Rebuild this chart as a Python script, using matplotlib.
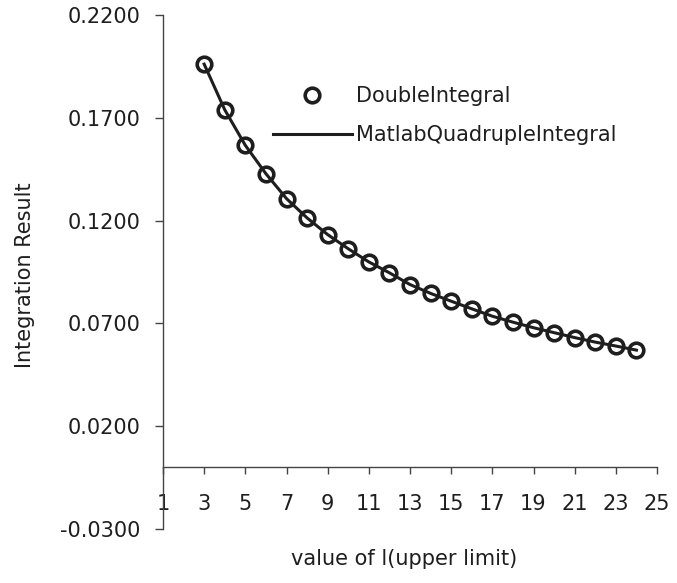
import matplotlib
matplotlib.use("Agg")
import matplotlib.pyplot as plt
from matplotlib.ticker import FormatStrFormatter

plt.rcParams['font.family'] = ['DejaVu Sans']
plt.rcParams['font.size'] = 15

# upper limit l and the two integration results
upper_limit = [3, 4, 5, 6, 7, 8, 9, 10, 11, 12, 13, 14, 15, 16, 17, 18, 19, 20, 21, 22, 23, 24]
double_integral = [0.1961, 0.1739, 0.1566, 0.1428, 0.1307, 0.1213, 0.1132, 0.1063, 0.0999, 0.0946, 0.0889,
                   0.0846, 0.0808, 0.0771, 0.0735, 0.0706, 0.0679, 0.0655, 0.0631, 0.0609, 0.0590, 0.0570]
quad_integral = [0.1961, 0.1739, 0.1566, 0.1428, 0.1307, 0.1213, 0.1132, 0.1063, 0.0999, 0.0946, 0.0889,
                 0.0846, 0.0808, 0.0771, 0.0735, 0.0706, 0.0679, 0.0655, 0.0631, 0.0609, 0.0590, 0.0570]
x_ticks = list(range(1, 26, 2))
y_ticks = [-0.03, 0.02, 0.07, 0.12, 0.17, 0.22]

ink = '#1e1e1e'

fig = plt.figure(figsize=(6.77, 5.83), dpi=100)
ax = fig.add_axes([163 / 677, 1 - 529 / 583, 494 / 677, 514 / 583])

ax.plot(upper_limit, double_integral, ls='', marker='o', ms=10.5, mfc='none',
        mec=ink, mew=2.6, label='DoubleIntegral', zorder=3)
ax.plot(upper_limit, quad_integral, ls='-', color=ink, lw=2.2,
        label='MatlabQuadrupleIntegral', zorder=2)

ax.set_xlim(1, 25)
ax.set_ylim(-0.03, 0.22)
ax.set_xticks(x_ticks)
ax.set_yticks(y_ticks)
ax.yaxis.set_major_formatter(FormatStrFormatter('%.4f'))

ax.spines['top'].set_visible(False)
ax.spines['right'].set_visible(False)
ax.spines['bottom'].set_position(('data', 0))
for s in ('left', 'bottom'):
    ax.spines[s].set_color('#444444')
    ax.spines[s].set_linewidth(1.0)

ax.tick_params(axis='y', direction='out', length=6, width=1.0, color='#444444',
               pad=10, labelcolor=ink, labelsize=15)
ax.tick_params(axis='x', direction='out', length=5, width=1.0, color='#444444',
               pad=14, labelcolor=ink, labelsize=15)

ax.set_xlabel('value of l(upper limit)', color=ink, fontsize=15)
ax.set_ylabel('Integration Result', color=ink, fontsize=15)
ax.xaxis.set_label_coords(0.488, -0.038)
ax.yaxis.set_label_coords(-0.26, 0.494)

leg = ax.legend(loc='upper left', bbox_to_anchor=(0.222, 0.861), frameon=False,
                borderpad=0, borderaxespad=0, handlelength=3.8, handletextpad=0.2,
                labelspacing=0.9, fontsize=15, labelcolor=ink)

fig.savefig('out.png', dpi=100)
